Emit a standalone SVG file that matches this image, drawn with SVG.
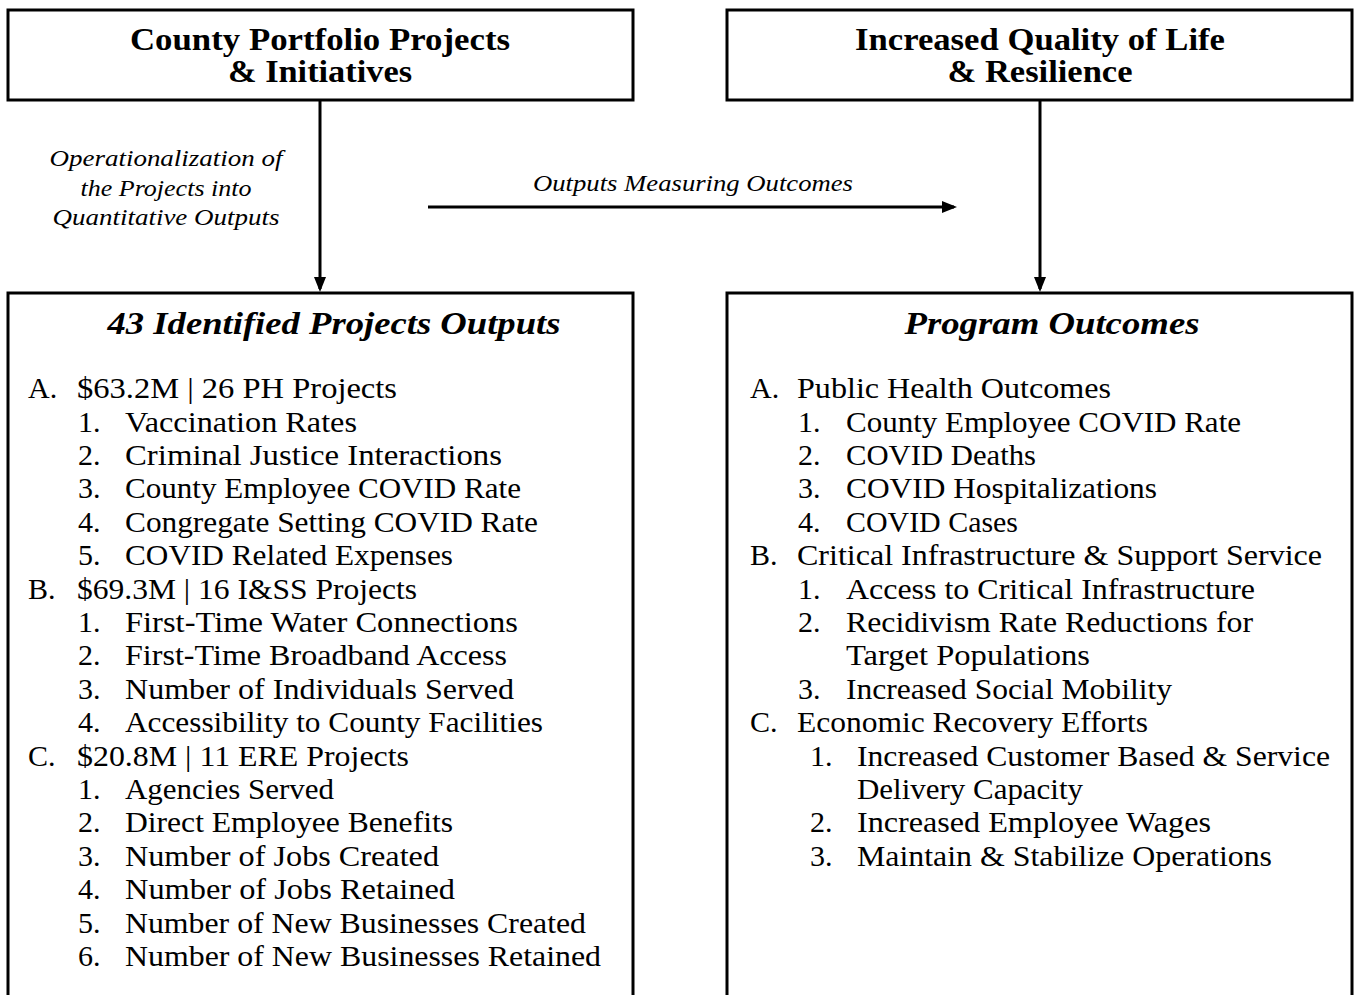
<svg xmlns="http://www.w3.org/2000/svg" width="1354" height="995" viewBox="0 0 1354 995">
<style>
.box{fill:#fff;stroke:#000;stroke-width:3}
.ttl{font-family:"Liberation Serif","DejaVu Serif",serif;font-weight:bold;font-size:31px;text-anchor:middle;fill:#000}
.bi{font-style:italic}
.lbl{font-family:"Liberation Serif","DejaVu Serif",serif;font-style:italic;font-size:23px;text-anchor:middle;fill:#000}
.li{font-family:"Liberation Serif","DejaVu Serif",serif;font-size:30px;fill:#000}
.con{stroke:#000;stroke-width:3;fill:none}
</style>
<defs>
<marker id="ah" markerWidth="5" markerHeight="4" refX="4" refY="2" orient="auto" markerUnits="strokeWidth">
<path d="M0,0 L5,2 L0,4 z" fill="#000"/>
</marker>
</defs>
<rect width="1354" height="995" fill="#fff"/>
<g id="connectors">
<line class="con" x1="320" y1="100" x2="320" y2="289" marker-end="url(#ah)"/>
<line class="con" x1="1040" y1="100" x2="1040" y2="289" marker-end="url(#ah)"/>
<line class="con" x1="428" y1="207" x2="954" y2="207" marker-end="url(#ah)"/>
<text class="lbl" x="166" y="166" textLength="233" lengthAdjust="spacingAndGlyphs">Operationalization of</text>
<text class="lbl" x="166" y="196" textLength="171" lengthAdjust="spacingAndGlyphs">the Projects into</text>
<text class="lbl" x="166" y="225" textLength="227" lengthAdjust="spacingAndGlyphs">Quantitative Outputs</text>
<text class="lbl" x="693" y="191" textLength="320" lengthAdjust="spacingAndGlyphs">Outputs Measuring Outcomes</text>
</g>
<g id="county-portfolio">
<rect class="box" x="8" y="10" width="625" height="90"/>
<text class="ttl" x="320" y="50" textLength="380" lengthAdjust="spacingAndGlyphs">County Portfolio Projects</text>
<text class="ttl" x="320" y="82" textLength="184" lengthAdjust="spacingAndGlyphs">&amp; Initiatives</text>
</g>
<g id="quality-of-life">
<rect class="box" x="727" y="10" width="625" height="90"/>
<text class="ttl" x="1040" y="50" textLength="370" lengthAdjust="spacingAndGlyphs">Increased Quality of Life</text>
<text class="ttl" x="1040" y="82" textLength="185" lengthAdjust="spacingAndGlyphs">&amp; Resilience</text>
</g>
<g id="project-outputs">
<rect class="box" x="8" y="293" width="625" height="720"/>
<text class="ttl bi" x="334" y="334" textLength="453" lengthAdjust="spacingAndGlyphs">43 Identified Projects Outputs</text>
<g class="li">
<text x="28" y="398">A.</text><text x="77" y="398" textLength="320" lengthAdjust="spacingAndGlyphs">$63.2M | 26 PH Projects</text>
<text x="78" y="432">1.</text><text x="125" y="432" textLength="232" lengthAdjust="spacingAndGlyphs">Vaccination Rates</text>
<text x="78" y="465">2.</text><text x="125" y="465" textLength="377" lengthAdjust="spacingAndGlyphs">Criminal Justice Interactions</text>
<text x="78" y="498">3.</text><text x="125" y="498" textLength="396" lengthAdjust="spacingAndGlyphs">County Employee COVID Rate</text>
<text x="78" y="532">4.</text><text x="125" y="532" textLength="413" lengthAdjust="spacingAndGlyphs">Congregate Setting COVID Rate</text>
<text x="78" y="565">5.</text><text x="125" y="565" textLength="328" lengthAdjust="spacingAndGlyphs">COVID Related Expenses</text>
<text x="28" y="599">B.</text><text x="77" y="599" textLength="340" lengthAdjust="spacingAndGlyphs">$69.3M | 16 I&amp;SS Projects</text>
<text x="78" y="632">1.</text><text x="125" y="632" textLength="393" lengthAdjust="spacingAndGlyphs">First-Time Water Connections</text>
<text x="78" y="665">2.</text><text x="125" y="665" textLength="382" lengthAdjust="spacingAndGlyphs">First-Time Broadband Access</text>
<text x="78" y="699">3.</text><text x="125" y="699" textLength="389" lengthAdjust="spacingAndGlyphs">Number of Individuals Served</text>
<text x="78" y="732">4.</text><text x="125" y="732" textLength="418" lengthAdjust="spacingAndGlyphs">Accessibility to County Facilities</text>
<text x="28" y="766">C.</text><text x="77" y="766" textLength="332" lengthAdjust="spacingAndGlyphs">$20.8M | 11 ERE Projects</text>
<text x="78" y="799">1.</text><text x="125" y="799" textLength="209" lengthAdjust="spacingAndGlyphs">Agencies Served</text>
<text x="78" y="832">2.</text><text x="125" y="832" textLength="328" lengthAdjust="spacingAndGlyphs">Direct Employee Benefits</text>
<text x="78" y="866">3.</text><text x="125" y="866" textLength="314" lengthAdjust="spacingAndGlyphs">Number of Jobs Created</text>
<text x="78" y="899">4.</text><text x="125" y="899" textLength="330" lengthAdjust="spacingAndGlyphs">Number of Jobs Retained</text>
<text x="78" y="933">5.</text><text x="125" y="933" textLength="461" lengthAdjust="spacingAndGlyphs">Number of New Businesses Created</text>
<text x="78" y="966">6.</text><text x="125" y="966" textLength="476" lengthAdjust="spacingAndGlyphs">Number of New Businesses Retained</text>
</g>
</g>
<g id="program-outcomes">
<rect class="box" x="727" y="293" width="625" height="720"/>
<text class="ttl bi" x="1052" y="334" textLength="295" lengthAdjust="spacingAndGlyphs">Program Outcomes</text>
<g class="li">
<text x="750" y="398">A.</text><text x="797" y="398" textLength="314" lengthAdjust="spacingAndGlyphs">Public Health Outcomes</text>
<text x="798" y="432">1.</text><text x="846" y="432" textLength="395" lengthAdjust="spacingAndGlyphs">County Employee COVID Rate</text>
<text x="798" y="465">2.</text><text x="846" y="465" textLength="190" lengthAdjust="spacingAndGlyphs">COVID Deaths</text>
<text x="798" y="498">3.</text><text x="846" y="498" textLength="311" lengthAdjust="spacingAndGlyphs">COVID Hospitalizations</text>
<text x="798" y="532">4.</text><text x="846" y="532" textLength="172" lengthAdjust="spacingAndGlyphs">COVID Cases</text>
<text x="750" y="565">B.</text><text x="797" y="565" textLength="525" lengthAdjust="spacingAndGlyphs">Critical Infrastructure &amp; Support Service</text>
<text x="798" y="599">1.</text><text x="846" y="599" textLength="409" lengthAdjust="spacingAndGlyphs">Access to Critical Infrastructure</text>
<text x="798" y="632">2.</text><text x="846" y="632" textLength="407" lengthAdjust="spacingAndGlyphs">Recidivism Rate Reductions for</text>
<text x="846" y="665" textLength="244" lengthAdjust="spacingAndGlyphs">Target Populations</text>
<text x="798" y="699">3.</text><text x="846" y="699" textLength="326" lengthAdjust="spacingAndGlyphs">Increased Social Mobility</text>
<text x="750" y="732">C.</text><text x="797" y="732" textLength="351" lengthAdjust="spacingAndGlyphs">Economic Recovery Efforts</text>
<text x="810" y="766">1.</text><text x="857" y="766" textLength="473" lengthAdjust="spacingAndGlyphs">Increased Customer Based &amp; Service</text>
<text x="857" y="799" textLength="226" lengthAdjust="spacingAndGlyphs">Delivery Capacity</text>
<text x="810" y="832">2.</text><text x="857" y="832" textLength="354" lengthAdjust="spacingAndGlyphs">Increased Employee Wages</text>
<text x="810" y="866">3.</text><text x="857" y="866" textLength="415" lengthAdjust="spacingAndGlyphs">Maintain &amp; Stabilize Operations</text>
</g>
</g>
</svg>
